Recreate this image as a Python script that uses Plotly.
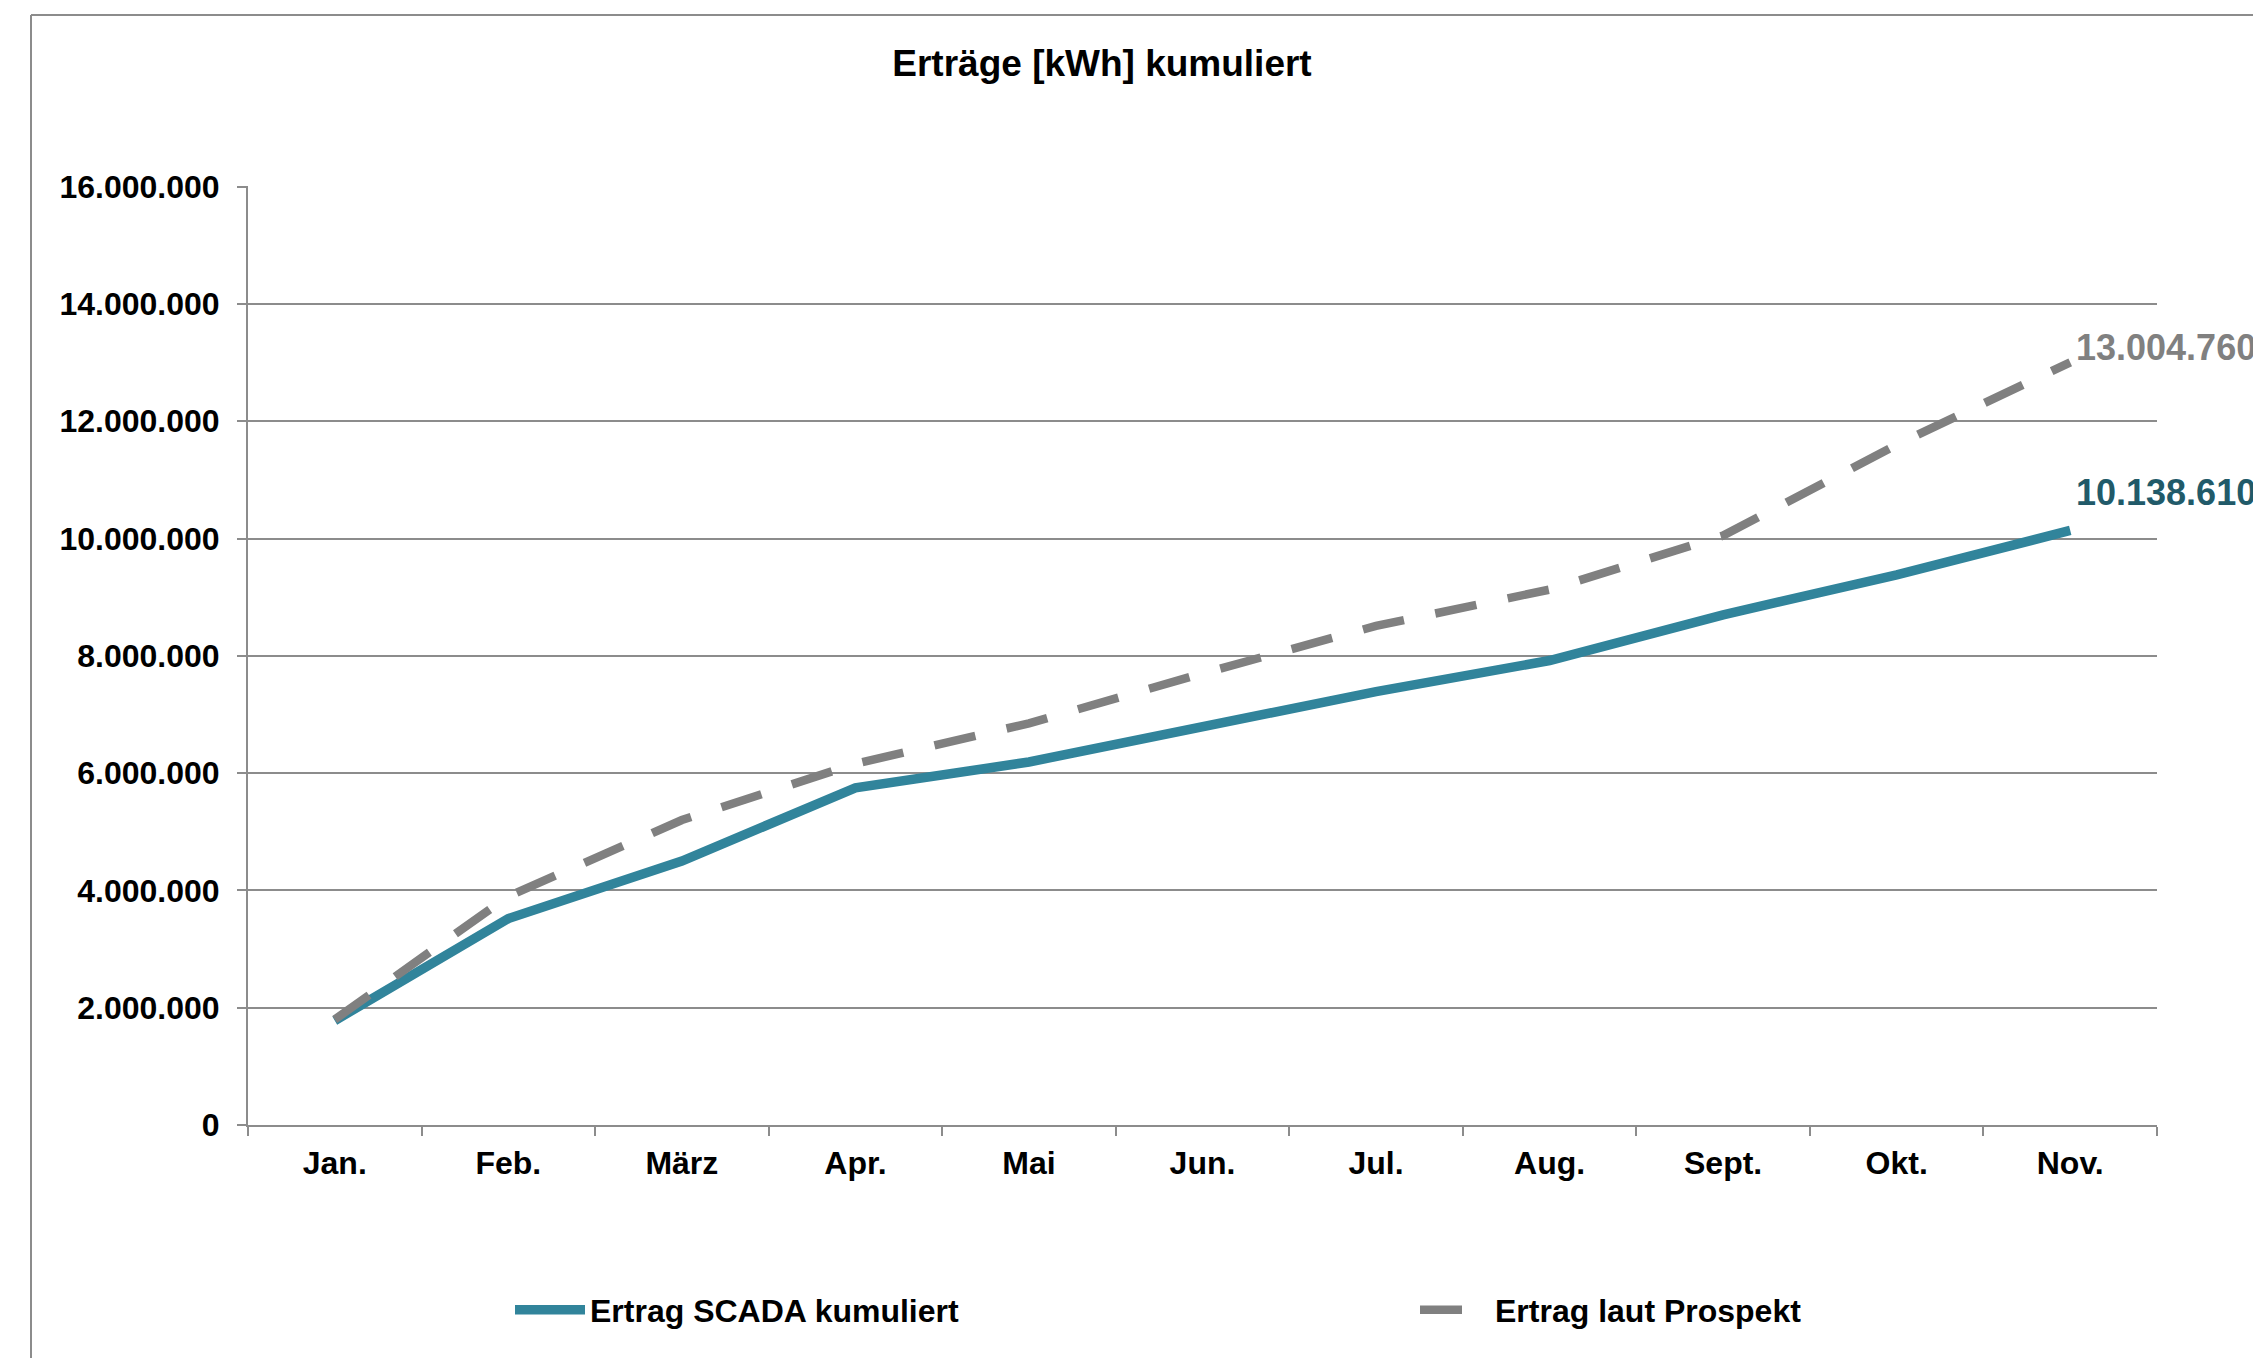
import plotly.graph_objects as go

months = ["Jan.", "Feb.", "März", "Apr.", "Mai", "Jun.", "Jul.", "Aug.", "Sept.", "Okt.", "Nov."]
scada = [1780000, 3520000, 4500000, 5750000, 6190000, 6810000, 7390000, 7920000, 8700000, 9380000, 10138610]
prospekt = [1800000, 3900000, 5200000, 6160000, 6850000, 7700000, 8510000, 9130000, 10050000, 11600000, 13004760]
ytick_vals = [0, 2000000, 4000000, 6000000, 8000000, 10000000, 12000000, 14000000, 16000000]

TEAL = "#31849B"
TEAL_DARK = "#215A69"
GREY = "#808080"
AXIS = "#8C8C8C"
FONT = "Liberation Sans, Arial, sans-serif"


def de(v):
    return f"{v:,.0f}".replace(",", ".")


fig = go.Figure()
fig.add_trace(go.Scatter(
    x=months, y=scada, mode="lines", name="Ertrag SCADA kumuliert",
    line=dict(color=TEAL, width=9.5),
))
fig.add_trace(go.Scatter(
    x=months, y=prospekt, mode="lines", name="Ertrag laut Prospekt",
    line=dict(color=GREY, width=8.5, dash="42px,32px"),
))

fig.add_annotation(x=months[-1], y=prospekt[-1], text=de(prospekt[-1]), showarrow=False,
                   xanchor="left", yanchor="middle", xshift=4, yshift=15,
                   font=dict(family=FONT, size=36, color=GREY, weight="bold"))
fig.add_annotation(x=months[-1], y=scada[-1], text=de(scada[-1]), showarrow=False,
                   xanchor="left", yanchor="middle", xshift=4, yshift=38,
                   font=dict(family=FONT, size=36, color=TEAL_DARK, weight="bold"))

# page body has an 8px margin: figure pixel = page pixel - 8
OFF = 8
W, H = 2261 - OFF, 1358 - OFF
ml, mr, mt, mb = 248 - OFF, 2261 - 2157, 186 - OFF, 1358 - 1125
pw, ph = W - ml - mr, H - mt - mb


def px(xp):
    return (xp - OFF - ml) / pw


def py(yp):
    return 1 - (yp - OFF - mt) / ph


# outer chart-area border (top and left edges visible)
fig.add_shape(type="line", xref="paper", yref="paper", x0=px(31), x1=px(2261 + 5), y0=py(15), y1=py(15),
              line=dict(color=AXIS, width=2))
fig.add_shape(type="line", xref="paper", yref="paper", x0=px(31), x1=px(31), y0=py(15), y1=py(1358 + 5),
              line=dict(color=AXIS, width=2))

fig.update_layout(
    width=W, height=H,
    margin=dict(l=ml, r=mr, t=mt, b=mb),
    paper_bgcolor="white", plot_bgcolor="white",
    separators=",.",
    font=dict(family=FONT, size=32, color="black"),
    title=dict(text="<b>Erträge [kWh] kumuliert</b>", x=(1102 - OFF) / W, xref="container", xanchor="center",
               y=1 - (63 - OFF) / H, yref="container", yanchor="middle",
               font=dict(family=FONT, size=37, color="black")),
    showlegend=True,
    legend=dict(orientation="h", xref="container", yref="container", x=(510 - OFF) / W, y=1 - (1310 - OFF) / H,
                xanchor="left", yanchor="middle", entrywidth=820, entrywidthmode="pixels",
                itemwidth=70,
                font=dict(family=FONT, size=32, color="black", weight="bold"),
                bgcolor="rgba(0,0,0,0)"),
    xaxis=dict(type="category", categoryorder="array", categoryarray=months,
               range=[-0.5, len(months) - 0.5],
               showline=True, linecolor=AXIS, linewidth=2, showgrid=False,
               ticks="outside", ticklen=9, tickwidth=2, tickcolor=AXIS, tickson="boundaries",
               tickfont=dict(family=FONT, size=32, color="black", weight="bold"),
               ticklabelstandoff=9, zeroline=False),
    yaxis=dict(range=[0, 16012000], tickvals=ytick_vals, ticktext=[de(v) for v in ytick_vals],
               showline=True, linecolor=AXIS, linewidth=2,
               showgrid=True, gridcolor=AXIS, gridwidth=2,
               ticks="outside", ticklen=9, tickwidth=2, tickcolor=AXIS,
               tickfont=dict(family=FONT, size=32, color="black", weight="bold"),
               ticklabelstandoff=11, zeroline=False),
)

fig.write_html("out.html")
